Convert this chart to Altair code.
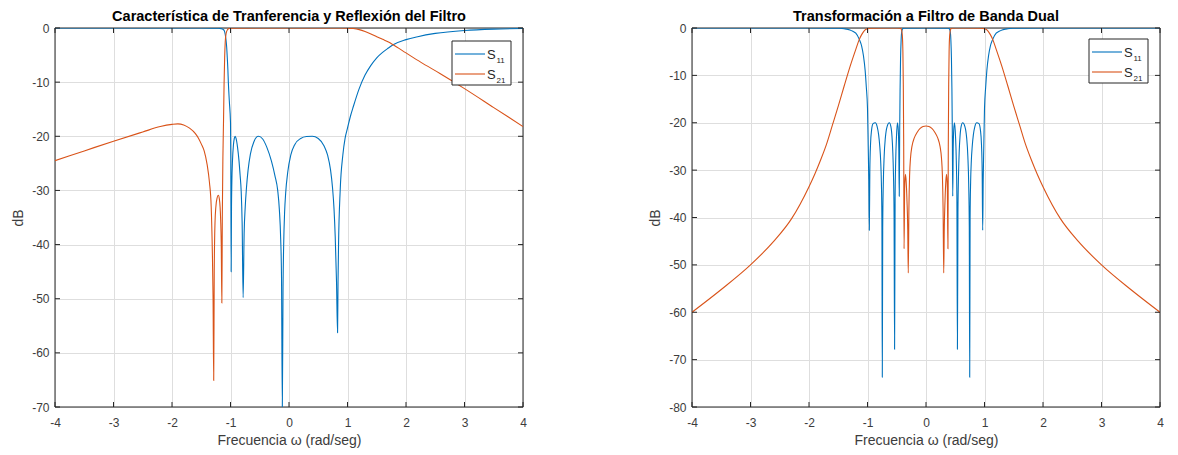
import altair as alt
import pandas as pd

# ---------------- data ----------------
X_TICKS = [-4, -3, -2, -1, 0, 1, 2, 3, 4]
Y_TICKS_L = [0, -10, -20, -30, -40, -50, -60, -70]
Y_TICKS_R = [0, -10, -20, -30, -40, -50, -60, -70, -80]

TITLE_L = "Característica de Tranferencia y Reflexión del Filtro"
TITLE_R = "Transformación a Filtro de Banda Dual"
X_TITLE = "Frecuencia ω (rad/seg)"
Y_TITLE = "dB"
SERIES = ["S11", "S21"]
SUBS = ["11", "21"]

# Left panel: S11
L11_x = [-4.0, -3.0, -2.0, -1.5, -1.3, -1.2, -1.16, -1.13, -1.106, -1.09, -1.077, -1.065,
         -1.055, -1.045, -1.037, -1.02, -1.0, -0.995, -0.989, -0.983, -0.977, -0.966, -0.95,
         -0.935, -0.92, -0.905, -0.88, -0.855, -0.835, -0.818, -0.801, -0.784, -0.767, -0.748,
         -0.727, -0.7, -0.66, -0.6, -0.523, -0.45, -0.38, -0.3, -0.24, -0.193, -0.165, -0.142,
         -0.128, -0.114, -0.102, -0.091, -0.075, -0.057, -0.02, 0.03, 0.1, 0.2, 0.3, 0.398,
         0.5, 0.6, 0.66, 0.71, 0.744, 0.77, 0.79, 0.8125, 0.83, 0.838, 0.847, 0.875, 0.92,
         0.96, 1.0, 1.05, 1.1, 1.2, 1.3, 1.4, 1.5, 1.6, 1.7, 1.78, 2.0, 2.2, 2.5, 3.0, 3.5, 4.0]
L11_y = [0.0, 0.0, 0.0, 0.0, -0.02, -0.05, -0.12, -0.25, -0.5, -1.2, -2.2, -3.6,
         -5.5, -7.6, -10.0, -13.5, -17.5, -24.0, -45.0, -33.0, -28.5, -24.5, -21.6,
         -20.4, -20.0, -20.4, -22.0, -24.5, -27.3, -30.0, -36.0, -49.8, -38.0, -33.0,
         -29.5, -26.3, -23.3, -21.0, -20.0, -20.5, -22.0, -24.6, -27.3, -30.0, -33.5, -39.0,
         -46.0, -70.0, -48.0, -40.0, -34.0, -30.5, -26.5, -23.5, -21.5, -20.4, -20.05, -20.0,
         -20.4, -21.8, -23.5, -26.2, -29.5, -33.5, -38.5, -47.0, -56.3, -47.0, -40.0, -30.0, -23.5,
         -20.3, -18.5, -16.3, -14.5, -11.2, -8.7, -6.9, -5.5, -4.5, -3.7, -3.1, -2.15, -1.6, -1.0,
         -0.45, -0.2, -0.1]

# Left panel: S21
L21_x = [-4.0, -3.5, -3.0, -2.5, -2.2, -2.0, -1.9, -1.8, -1.7, -1.6, -1.55, -1.5, -1.45,
         -1.4, -1.36, -1.33, -1.31, -1.298, -1.287, -1.278, -1.265, -1.25, -1.23, -1.208,
         -1.19, -1.178, -1.168, -1.158, -1.148, -1.14, -1.13, -1.119, -1.11, -1.1, -1.09,
         -1.075, -1.05, -1.02, -1.0, -0.5, 0.0, 0.5, 0.9, 1.0, 1.1, 1.2, 1.3, 1.4, 1.5, 1.6,
         1.7, 1.78, 2.0, 2.25, 2.58, 3.0, 3.5, 4.0]
L21_y = [-24.5, -22.7, -20.9, -19.2, -18.2, -17.8, -17.7, -17.9, -18.5, -19.5, -20.3, -21.4, -22.7,
         -25.2, -28.5, -33.0, -41.6, -50.0, -65.1, -45.0, -36.0, -33.0, -31.4, -30.9,
         -31.6, -33.0, -35.5, -40.0, -50.8, -35.0, -24.0, -17.0, -10.5, -5.5, -2.6,
         -1.0, -0.3, -0.06, -0.02, 0.0, 0.0, 0.0, -0.01, -0.03, -0.1, -0.3, -0.65, -1.1, -1.6, -2.1,
         -2.6, -3.1, -4.6, -6.3, -8.4, -11.2, -14.7, -18.2]

# Right panel: S11
R11_x = [-4.0, -3.0, -2.0, -1.6, -1.5, -1.4, -1.3, -1.25, -1.2, -1.14, -1.1, -1.07, -1.04,
         -1.02, -1.0, -0.988, -0.978, -0.969, -0.96, -0.948, -0.93, -0.905, -0.867, -0.835,
         -0.81, -0.79, -0.775, -0.763, -0.754, -0.747, -0.74, -0.73, -0.715, -0.695, -0.665,
         -0.627, -0.6, -0.582, -0.568, -0.556, -0.546, -0.537, -0.528, -0.518, -0.505, -0.488,
         -0.474, -0.465, -0.457, -0.45, -0.443, -0.435, -0.425, -0.415, -0.4, -0.38, 0.0,
         0.38, 0.4, 0.415, 0.425, 0.435, 0.443, 0.45, 0.457, 0.465, 0.474, 0.488, 0.505, 0.518,
         0.528, 0.537, 0.546, 0.556, 0.568, 0.582, 0.6, 0.627, 0.665, 0.695, 0.715, 0.73, 0.74,
         0.747, 0.754, 0.763, 0.775, 0.79, 0.81, 0.835, 0.867, 0.905, 0.93, 0.948, 0.96, 0.969,
         0.978, 0.988, 1.0, 1.02, 1.04, 1.07, 1.1, 1.14, 1.2, 1.25, 1.3, 1.4, 1.5, 1.6, 2.0,
         3.0, 4.0]
R11_y = [0.0, 0.0, 0.0, -0.03, -0.06, -0.15, -0.4, -0.7, -1.1, -2.4, -3.8, -5.8, -9.0,
         -12.5, -17.0, -25.0, -32.0, -42.7, -30.0, -24.5, -21.5, -20.2, -20.0, -20.8,
         -22.5, -25.0, -28.0, -32.5, -40.0, -73.7, -42.0, -33.0, -27.0, -23.2, -20.8,
         -20.0, -20.8, -22.8, -26.0, -31.0, -39.0, -67.8, -36.0, -28.0, -23.0, -20.0,
         -21.5, -25.5, -35.5, -22.0, -13.0, -6.5, -2.5, -0.8, -0.2, -0.05, 0.0,
         -0.05, -0.2, -0.8, -2.5, -6.5, -13.0, -22.0, -35.5, -25.5, -21.5, -20.0, -23.0, -28.0,
         -36.0, -67.8, -39.0, -31.0, -26.0, -22.8, -20.8, -20.0, -20.8, -23.2, -27.0, -33.0, -42.0,
         -73.7, -40.0, -32.5, -28.0, -25.0, -22.5, -20.8, -20.0, -20.2, -21.5, -24.5, -30.0, -42.7,
         -32.0, -25.0, -17.0, -12.5, -9.0, -5.8, -3.8, -2.4, -1.1, -0.7, -0.4, -0.15, -0.06, -0.03, 0.0,
         0.0, 0.0]

# Right panel: S21
R21_x = [-4.0, -3.5, -3.0, -2.6, -2.3, -2.0, -1.9, -1.8, -1.7, -1.6, -1.5, -1.4, -1.3, -1.2,
         -1.14, -1.1, -1.05, -1.0, -0.95, -0.7, -0.5, -0.44, -0.42, -0.405, -0.395, -0.388,
         -0.381, -0.375, -0.365, -0.352, -0.34, -0.325, -0.312, -0.303, -0.292, -0.28, -0.265,
         -0.24, -0.2, -0.15, -0.1, -0.05, 0.0, 0.05, 0.1, 0.15, 0.2, 0.24, 0.265, 0.28, 0.292,
         0.303, 0.312, 0.325, 0.34, 0.352, 0.365, 0.375, 0.381, 0.388, 0.395, 0.405, 0.42, 0.44,
         0.5, 0.7, 0.95, 1.0, 1.05, 1.1, 1.14, 1.2, 1.3, 1.4, 1.5, 1.6, 1.7, 1.8, 1.9, 2.0, 2.3,
         2.6, 3.0, 3.5, 4.0]
R21_y = [-60.0, -55.2, -50.0, -45.0, -40.3, -33.5, -30.8, -27.8, -24.5, -20.5, -16.5, -12.3, -8.2, -4.5,
         -2.4, -1.4, -0.5, -0.15, -0.03, 0.0, 0.0, -0.05, -0.3, -1.5, -5.0, -12.0,
         -25.0, -46.6, -34.0, -30.9, -32.2, -36.5, -42.5, -51.7, -38.0, -31.0, -27.5,
         -25.0, -23.2, -22.0, -21.2, -20.8, -20.7, -20.8, -21.2, -22.0, -23.2, -25.0, -27.5, -31.0, -38.0,
         -51.7, -42.5, -36.5, -32.2, -30.9, -34.0, -46.6, -25.0, -12.0, -5.0, -1.5, -0.3, -0.05,
         0.0, 0.0, -0.03, -0.15, -0.5, -1.4, -2.4, -4.5, -8.2, -12.3, -16.5, -20.5, -24.5, -27.8, -30.8, -33.5, -40.3,
         -45.0, -50.0, -55.2, -60.0]

# ---------------- styling ----------------
FONT = "Liberation Sans"
BLUE = "#0072BD"
ORANGE = "#D95319"
DARK = "#262626"
W, H = 468, 379


def panel(s11x, s11y, s21x, s21y, ymin, yticks, title, leg_top):
    df = pd.DataFrame({
        "x": s11x + s21x,
        "y": s11y + s21y,
        "serie": [SERIES[0]] * len(s11x) + [SERIES[1]] * len(s21x),
    })
    xs = alt.Scale(domain=[-4, 4], nice=False, zero=False)
    ys = alt.Scale(domain=[ymin, 0], nice=False, zero=False)
    ax_x = alt.Axis(values=X_TICKS, title=X_TITLE, labelExpr="'' + datum.value")
    ax_y = alt.Axis(values=yticks, title=Y_TITLE, labelExpr="'' + datum.value")
    X = alt.X("x:Q", scale=xs, axis=ax_x)
    Y = alt.Y("y:Q", scale=ys, axis=ax_y)

    box = alt.Chart(pd.DataFrame({"k": [0]})).mark_rect(
        fillOpacity=0, stroke=DARK, strokeWidth=1
    ).encode(x=alt.value(0), x2=alt.value(W), y=alt.value(0), y2=alt.value(H))

    lines = alt.Chart(df).mark_line(strokeWidth=1.1, interpolate="monotone", clip=True).encode(
        x=X, y=Y,
        color=alt.Color("serie:N", scale=alt.Scale(domain=SERIES, range=[BLUE, ORANGE]), legend=None),
    )

    xt = pd.DataFrame({"x": X_TICKS})
    yt = pd.DataFrame({"y": yticks})
    tick_b = alt.Chart(xt).mark_rule(color=DARK, strokeWidth=1).encode(
        x=X, y=alt.value(H), y2=alt.value(H - 5))
    tick_t = alt.Chart(xt).mark_rule(color=DARK, strokeWidth=1).encode(
        x=X, y=alt.value(0), y2=alt.value(5))
    tick_l = alt.Chart(yt).mark_rule(color=DARK, strokeWidth=1).encode(
        y=Y, x=alt.value(0), x2=alt.value(5))
    tick_r = alt.Chart(yt).mark_rule(color=DARK, strokeWidth=1).encode(
        y=Y, x=alt.value(W), x2=alt.value(W - 5))

    one = pd.DataFrame({"k": [0]})
    t = leg_top
    leg = [
        alt.Chart(one).mark_rect(fill="white", stroke=DARK, strokeWidth=1).encode(
            x=alt.value(397), x2=alt.value(456), y=alt.value(t), y2=alt.value(t + 44)),
    ]
    for i, col in enumerate([BLUE, ORANGE]):
        yl = t + 13 + i * 20
        leg.append(alt.Chart(one).mark_rule(color=col, strokeWidth=1.1).encode(
            x=alt.value(400), x2=alt.value(430), y=alt.value(yl)))
        leg.append(alt.Chart(one).mark_text(
            text="S", align="left", baseline="alphabetic", font=FONT, fontSize=13, color=DARK
        ).encode(x=alt.value(432), y=alt.value(yl + 5)))
        leg.append(alt.Chart(one).mark_text(
            text=SUBS[i], align="left", baseline="alphabetic", font=FONT, fontSize=8, color=DARK
        ).encode(x=alt.value(441.5), y=alt.value(yl + 9)))

    return alt.layer(box, lines, tick_b, tick_t, tick_l, tick_r, *leg).properties(
        width=W, height=H,
        title=alt.Title(title, font=FONT, fontSize=14.5, fontWeight="bold", color="black",
                        frame="group", anchor="middle", baseline="alphabetic", offset=-13),
    )


left = panel(L11_x, L11_y, L21_x, L21_y, -70, Y_TICKS_L, TITLE_L, 13)
right = panel(R11_x, R11_y, R21_x, R21_y, -80, Y_TICKS_R, TITLE_R, 11)

chart = alt.hconcat(left, right, spacing=121).properties(
    padding={"left": 11, "top": 8, "right": 0, "bottom": 0}
).configure_view(stroke="transparent").configure_axis(
    labelFont=FONT, labelFontSize=12, labelColor="#3c3c3c",
    titleFont=FONT, titleFontSize=14, titleColor="#3c3c3c", titleFontWeight="normal",
    grid=True, gridColor="#dedede", gridWidth=1, domain=False, ticks=False, tickSize=0,
    labelFlush=False, labelOverlap=False,
).configure_axisX(labelPadding=10, titlePadding=5).configure_axisY(labelPadding=6, titlePadding=6)

chart.save("out.html", embed_options={"renderer": "svg", "actions": False})
